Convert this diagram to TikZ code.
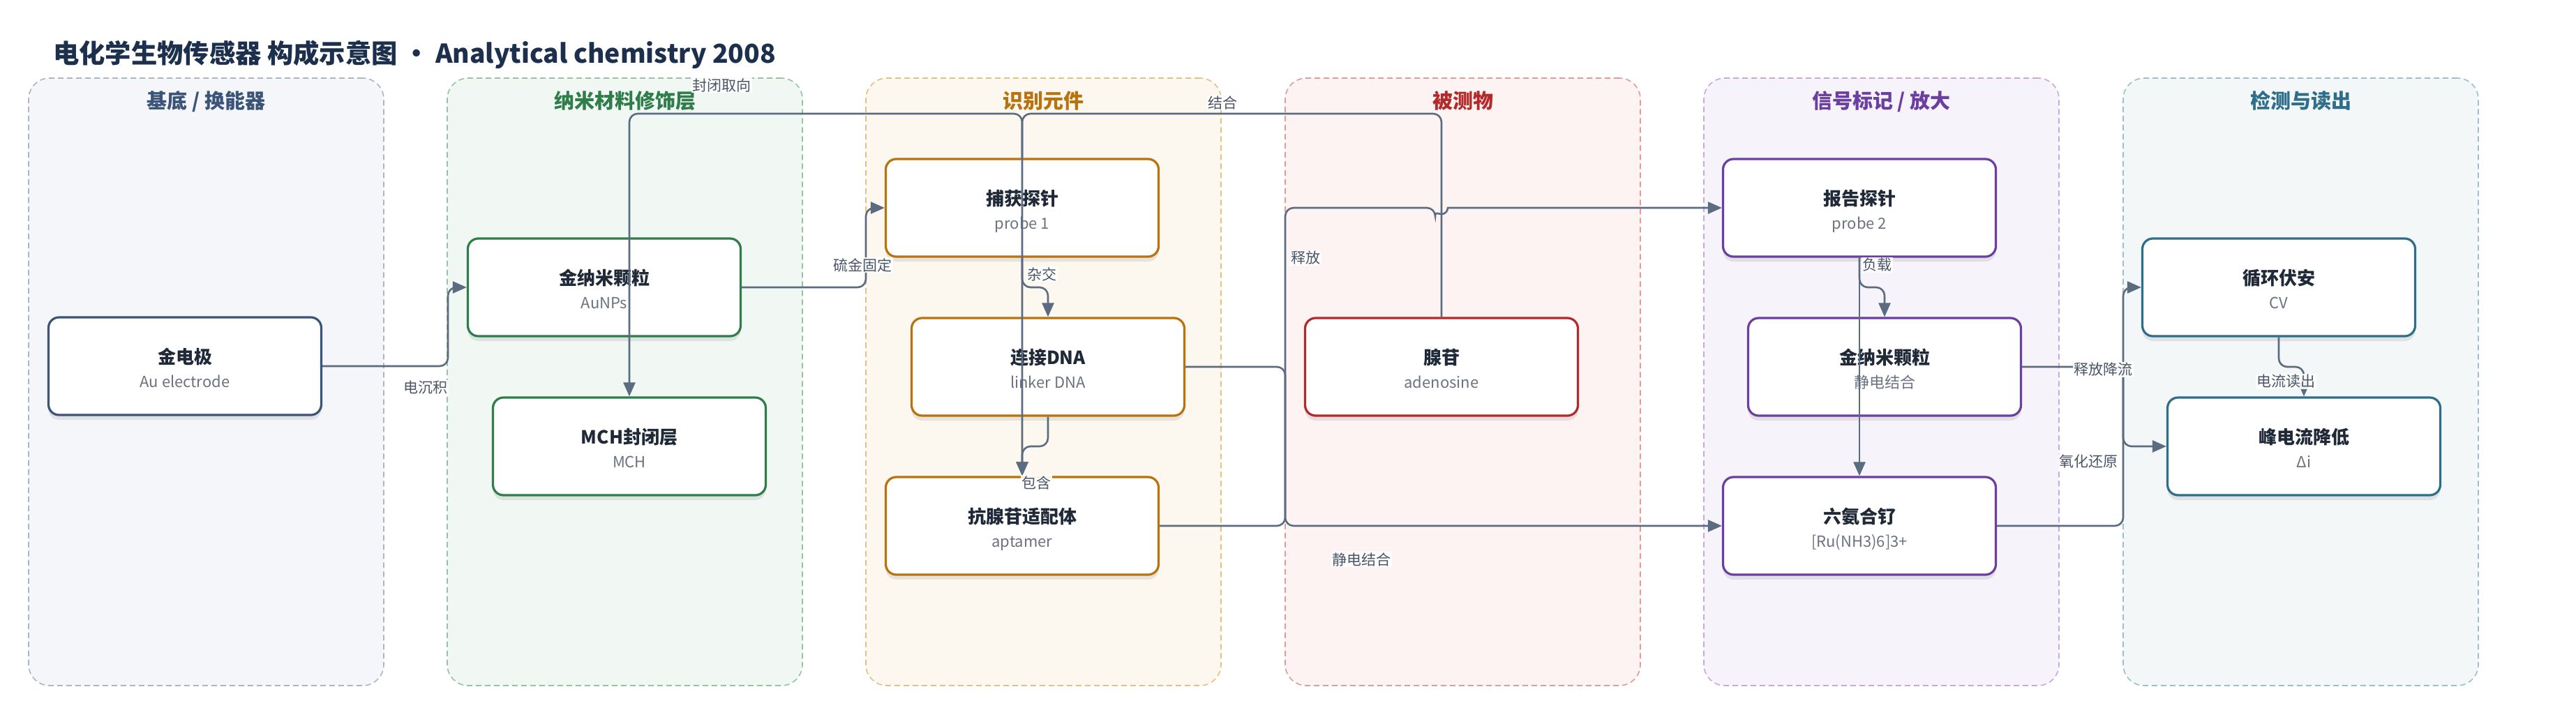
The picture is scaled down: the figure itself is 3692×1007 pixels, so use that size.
\documentclass[tikz,border=0pt]{standalone}
\usepackage{fontspec}
\setmainfont{Noto Sans CJK SC}
\usetikzlibrary{arrows.meta,shadows}
\definecolor{titlec}{HTML}{1C2F4D}
\definecolor{edgec}{HTML}{5B6B80}
\definecolor{labc}{HTML}{4A5568}
\definecolor{nodetxt}{HTML}{1F2937}
\definecolor{subc}{HTML}{6B7280}
% lane colours
\definecolor{fA}{HTML}{F4F6FA}\definecolor{dA}{HTML}{A9B6C8}\definecolor{cA}{HTML}{3B5478}
\definecolor{fB}{HTML}{F1F8F3}\definecolor{dB}{HTML}{94C4A2}\definecolor{cB}{HTML}{2E7D4A}
\definecolor{fC}{HTML}{FDF8EF}\definecolor{dC}{HTML}{E6C17E}\definecolor{cC}{HTML}{B8730E}
\definecolor{fD}{HTML}{FDF3F2}\definecolor{dD}{HTML}{E39A9A}\definecolor{cD}{HTML}{B22A2A}
\definecolor{fE}{HTML}{F7F3FB}\definecolor{dE}{HTML}{C7A8DF}\definecolor{cE}{HTML}{6B3FA0}
\definecolor{fF}{HTML}{F3F7F8}\definecolor{dF}{HTML}{9BBFCC}\definecolor{cF}{HTML}{2F6E8A}
\tikzset{
  lanebox/.style={rectangle, rounded corners=30pt, dash pattern=on 8pt off 5pt,
    line width=1.6pt, minimum width=509pt, minimum height=871pt, inner sep=0pt},
  lanetitle/.style={anchor=base, font=\fontsize{29}{34}\selectfont\bfseries, inner sep=0pt},
  nbox/.style={rectangle, rounded corners=15pt, fill=white, line width=3.2pt,
    minimum width=391pt, minimum height=140pt, inner sep=0pt,
    drop shadow={shadow xshift=0pt, shadow yshift=-7pt, opacity=0.12, fill=black!70}},
  ntitle/.style={anchor=base, font=\fontsize{26}{30}\selectfont\bfseries, text=nodetxt, inner sep=0pt},
  nsub/.style={anchor=base, font=\fontsize{22}{26}\selectfont, text=subc, inner sep=0pt},
  edge/.style={draw=edgec, line width=2.6pt, rounded corners=12pt},
  arr/.style={-{Triangle[length=20pt,width=17pt]}},
  elab/.style={font=\fontsize{21}{25}\selectfont, text=labc, fill=white, fill opacity=0.9, text opacity=1, inner sep=1.5pt}
}
\newcommand\mklane[6]{%
  \node[lanebox, fill=#3, draw=#4] (#1) at (#2+254.5,547.5) {};
  \node[lanetitle, text=#5] (#1-t) at (#2+254.5,155) {#6};
}
\newcommand\mknode[6]{%
  \node[nbox, draw=#4] (#1) at (#2,#3) {};
  \node[ntitle] (#1-t) at (#2,#3-4) {#5};
  \node[nsub] (#1-s) at (#2,#3+30) {#6};
}
\begin{document}
\begin{tikzpicture}[x=1pt,y=-1pt]
\useasboundingbox (0,0) rectangle (3692,1007);
\fill[white] (0,0) rectangle (3692,1007);
\node[anchor=base west, inner sep=0pt, font=\fontsize{37.3}{43}\selectfont\bfseries, text=titlec]
  (title) at (76,90) {电化学生物传感器 构成示意图 · Analytical chemistry 2008};
% lanes
\mklane{L1}{41}{fA}{dA}{cA}{基底 / 换能器}
\mklane{L2}{641}{fB}{dB}{cB}{纳米材料修饰层}
\mklane{L3}{1241}{fC}{dC}{cC}{识别元件}
\mklane{L4}{1842}{fD}{dD}{cD}{被测物}
\mklane{L5}{2442}{fE}{dE}{cE}{信号标记 / 放大}
\mklane{L6}{3043}{fF}{dF}{cF}{检测与读出}
% nodes
\mknode{el}{265}{525}{cA}{金电极}{Au electrode}
\mknode{aua}{866}{412}{cB}{金纳米颗粒}{AuNPs}
\mknode{mch}{902}{640}{cB}{MCH封闭层}{MCH}
\mknode{cap}{1465}{298}{cC}{捕获探针}{probe 1}
\mknode{lnk}{1502}{526}{cC}{连接DNA}{linker DNA}
\mknode{apt}{1465}{754}{cC}{抗腺苷适配体}{aptamer}
\mknode{ade}{2066}{526}{cD}{腺苷}{adenosine}
\mknode{rep}{2665}{298}{cE}{报告探针}{probe 2}
\mknode{aub}{2701}{526}{cE}{金纳米颗粒}{静电结合}
\mknode{ru}{2665}{754}{cE}{六氨合钌}{[Ru(NH3)6]3+}
\mknode{cv}{3266}{412}{cF}{循环伏安}{CV}
\mknode{pk}{3302}{640}{cF}{峰电流降低}{Δi}
% edges
\draw[edge,arr] (el.east) -- (642,525) -- (642,412) -- (aua.west);
\draw[edge,arr] (aua.east) -- (1241,412) -- (1241,298) -- (cap.west);
\draw[edge,arr] (cap.north) -- (1465,163) -- (902,163) -- (mch.north);
\draw[edge,arr] (cap.south) -- (1465,412) -- (1502,412) -- (lnk.north);
\draw[edge,arr] (ade.north) -- (2066,163) -- (1465,163) -- (apt.north);
\draw[edge,arr] (lnk.south) -- (1502,640) -- (1465,640) -- (apt.north);
\draw[edge,arr] (lnk.east) -- (1842,526) -- (1842,754) -- (ru.west);
\draw[edge,arr] (apt.east) -- (1842,754) -- (1842,298) -- (2057,298) [sharp corners] arc[start angle=180, end angle=360, radius=9pt] -- (rep.west);
\draw[edge,arr] (rep.south) -- (ru.north);
\draw[edge,arr] (rep.south) -- (2665,412) -- (2701,412) -- (aub.north);
\draw[edge,arr] (aub.east) -- (3043,526) -- (3043,640) -- (pk.west);
\draw[edge,arr] (ru.east) -- (3043,754) -- (3043,412) -- (cv.west);
\draw[edge,arr] (cv.south) -- (3266,526) -- (3302,526) -- (pk.north);
% edge labels
\node[elab] (l1) at (610,556) {电沉积};
\node[elab] (l2) at (1236,380) {硫金固定};
\node[elab] (l3) at (1034,122) {封闭取向};
\node[elab] (l4) at (1493,393) {杂交};
\node[elab] (l5) at (1752,147) {结合};
\node[elab] (l6) at (1485,692) {包含};
\node[elab] (l7) at (1871,370) {释放};
\node[elab] (l8) at (1951,802) {静电结合};
\node[elab] (l9) at (2690,380) {负载};
\node[elab] (l10) at (3014,530) {释放降流};
\node[elab] (l11) at (2993,662) {氧化还原};
\node[elab] (l12) at (3276,547) {电流读出};
\end{tikzpicture}
\end{document}
